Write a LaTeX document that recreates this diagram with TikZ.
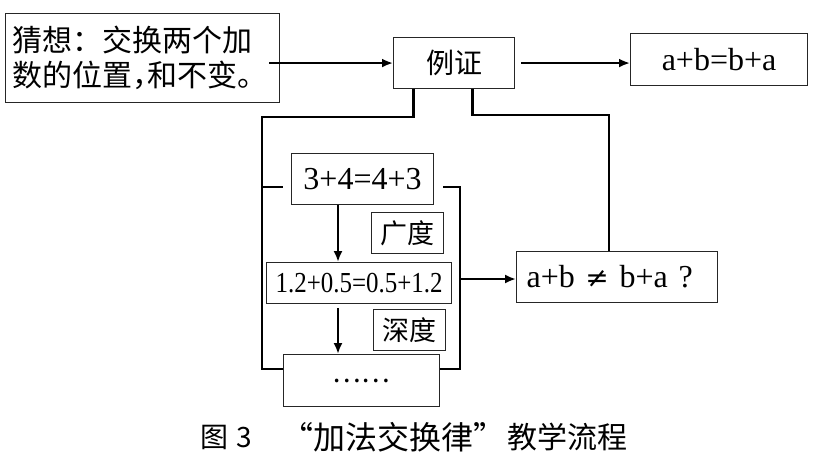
\documentclass[tikz,border=0pt]{standalone}
\usepackage{fontspec}
\setmainfont{Liberation Serif}
\newfontfamily\lat{Liberation Serif}
\newfontfamily\dvs{DejaVu Serif}
\newfontfamily\cjk{Noto Sans CJK SC}
\usetikzlibrary{arrows.meta}
\begin{document}
\begin{tikzpicture}[x=1pt,y=-1pt,
  box/.style={draw=black!85,line width=1.1pt,inner sep=0pt,anchor=north west},
  conn/.style={line width=2.7pt},
  arr/.style={conn,-{Latex[length=11pt,width=9pt]}},
]
\useasboundingbox[fill=white] (0,0) rectangle (818,464);
% nodes
\node[box,minimum width=274pt,minimum height=89pt,text width=260pt,inner xsep=7pt,align=left,
  font=\cjk\fontsize{30}{35}\selectfont] (gx) at (5,13)
  {猜想：交换两个加\\数的位置\makebox[0.5em][l]{，}和不变。};
\node[box,minimum width=121pt,minimum height=51pt,font=\cjk\fontsize{28}{32}\selectfont] (lz) at (393,37) {例证};
\node[box,minimum width=177pt,minimum height=52pt,font=\lat\fontsize{32}{36}\selectfont] (eq) at (630,33) {a+b=b+a};
\node[box,minimum width=142pt,minimum height=51pt,font=\lat\fontsize{32}{36}\selectfont] (ex1) at (291,153) {3+4=4+3};
\node[box,minimum width=185pt,minimum height=41pt,font=\lat\fontsize{29}{33}\selectfont] (ex2) at (266,262) {\scalebox{0.86}[1]{1.2+0.5=0.5+1.2}};
\node[box,minimum width=72pt,minimum height=41pt,font=\cjk\fontsize{27}{30}\selectfont] (gd) at (371,212) {广度};
\node[box,minimum width=72pt,minimum height=41pt,font=\cjk\fontsize{27}{30}\selectfont] (sd) at (373,309) {深度};
\node[box,minimum width=156pt,minimum height=52pt,font=\cjk\fontsize{27}{30}\selectfont] (dots) at (283,354) {……};
\node[box,minimum width=201pt,minimum height=51pt,text width=181pt,inner xsep=10pt,align=left,
  font=\lat\fontsize{32}{36}\selectfont] (ne) at (516,251) {a+b {\dvs\fontsize{28}{32}\selectfont ≠} b+a ?};
\node[font=\cjk\fontsize{28}{30}\selectfont,anchor=west,inner sep=0pt] (cap1) at (200,437) {图\hspace{8pt}3};
\node[font=\cjk\fontsize{32}{34}\selectfont,anchor=west,inner sep=0pt] (cap2) at (281,437) {“加法交换律”};
\node[font=\cjk\fontsize{30}{32}\selectfont,anchor=east,inner sep=0pt] (cap3) at (628,437) {教学流程};
% helper coordinates
\coordinate (lt) at (262,117);
\coordinate (lb) at (262,369);
\coordinate (rt) at (460,187);
\coordinate (rb) at (460,369);
\coordinate (ru) at (609,115);
\coordinate (ax) at (338,0);
% connectors
\draw[arr] ([xshift=-11pt]gx.east |- lz.west) -- (lz.west);
\draw[arr] ([xshift=6pt]lz.east) -- (eq.west |- lz.east);
\draw[conn] ([xshift=-40.5pt]lz.south) |- (lt) -- (lb) -- (dots.west |- lb);
\draw[conn] (262,187) -- ([xshift=-8pt]ex1.west |- 0,187);
\draw[conn] ([xshift=9pt]ex1.east |- 0,187) -- (rt) -- (rb) -- (dots.east |- rb);
\draw[conn] ([xshift=18.5pt]lz.south) |- (ru) -- (ne.north -| ru);
\draw[arr] (460,279) -- (ne.west |- 0,279);
\draw[arr] (ex1.south -| ax) -- (ex2.north -| ax);
\draw[arr] ([yshift=-4pt]ex2.south -| ax) -- (dots.north -| ax);
\end{tikzpicture}
\end{document}
